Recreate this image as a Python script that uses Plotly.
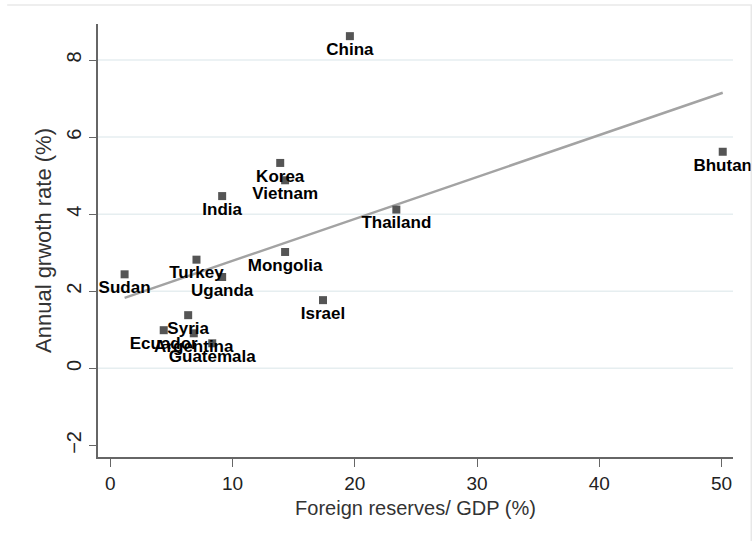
import plotly.graph_objects as go

# Country observations: foreign reserves as % of GDP vs. annual growth rate
countries = ["China", "Bhutan", "Korea", "Vietnam", "India", "Thailand",
             "Mongolia", "Turkey", "Uganda", "Israel", "Sudan", "Syria",
             "Ecuador", "Argentina", "Guatemala"]
reserves_gdp = [19.6, 50.1, 13.9, 14.3, 9.15, 23.4,
                14.3, 7.05, 9.15, 17.4, 1.17, 6.37,
                4.37, 6.83, 8.34]
growth_rate = [8.62, 5.62, 5.33, 4.88, 4.47, 4.12,
               3.02, 2.82, 2.37, 1.77, 2.44, 1.38,
               0.99, 0.91, 0.65]

# Linear fit (fitted values at the smallest and largest x)
fit_x = [1.17, 50.1]
fit_y = [1.83, 7.15]

x_ticks = [0, 10, 20, 30, 40, 50]
y_ticks = [-2, 0, 2, 4, 6, 8]
y_grid = [0, 2, 4, 6, 8]

fig = go.Figure()

fig.add_trace(go.Scatter(
    x=fit_x, y=fit_y, mode="lines",
    line=dict(color="#a3a3a3", width=2.5),
    hoverinfo="skip", showlegend=False, cliponaxis=False,
))

fig.add_trace(go.Scatter(
    x=reserves_gdp, y=growth_rate, mode="markers+text",
    text=countries, textposition="bottom center",
    textfont=dict(family="Liberation Sans, Arial", size=17, color="#000000",
                  weight="bold"),
    marker=dict(symbol="square", size=8, color="#555555"),
    showlegend=False, cliponaxis=False,
))

# Light horizontal gridlines
for gy in y_grid:
    fig.add_shape(type="line", xref="paper", yref="y", x0=0, x1=1, y0=gy, y1=gy,
                  line=dict(color="#e6eef0", width=1.5), layer="below")

# Outer graph-region frame (top and right edges)
fig.add_shape(type="line", xref="paper", yref="paper",
              x0=-0.143, x1=1.03, y0=1.0439, y1=1.0439,
              line=dict(color="#e8e8e8", width=1.5))
fig.add_shape(type="line", xref="paper", yref="paper",
              x0=1.0288, x1=1.0288, y0=1.0439, y1=-0.2,
              line=dict(color="#e8e8e8", width=1.5))

tick_font_x = dict(family="Liberation Sans, Arial", size=19, color="#222222")
tick_font_y = dict(family="Liberation Sans, Arial", size=20, color="#222222")
xtitle_font = dict(family="Liberation Sans, Arial", size=20, color="#333333")
ytitle_font = dict(family="Liberation Sans, Arial", size=22, color="#333333")

fig.update_layout(
    width=752, height=541,
    margin=dict(l=98, r=19, t=24, b=84),
    paper_bgcolor="white", plot_bgcolor="white",
    xaxis=dict(
        range=[-1.006, 50.94], tickvals=x_ticks, ticks="outside", ticklen=8,
        tickcolor="#666666", tickwidth=1.3, showline=True, linecolor="#666666",
        linewidth=1.5, showgrid=False, zeroline=False, tickfont=tick_font_x,
        title=dict(text="Foreign reserves/ GDP (%)", font=xtitle_font, standoff=8),
    ),
    yaxis=dict(
        range=[-2.30, 8.935], tickvals=y_ticks, ticks="outside", ticklen=7,
        tickcolor="#666666", tickwidth=1.3, showline=True, linecolor="#666666",
        linewidth=1.5, showgrid=False, zeroline=False, tickfont=tick_font_y,
        tickangle=-90,
        title=dict(text="Annual grwoth rate (%)", font=ytitle_font, standoff=6),
    ),
)

fig.write_html("out.html")
